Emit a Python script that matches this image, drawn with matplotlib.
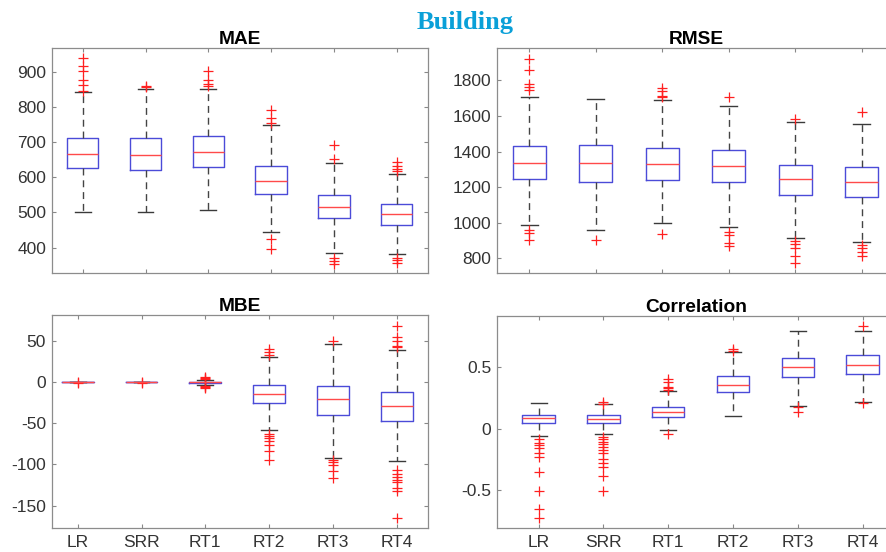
import matplotlib
matplotlib.use('Agg')
import matplotlib.pyplot as plt

plt.rcParams['font.family'] = ['Liberation Sans', 'DejaVu Sans']
plt.rcParams['axes.unicode_minus'] = False

models = ['LR', 'SRR', 'RT1', 'RT2', 'RT3', 'RT4']

# MAE
mae_q1 = [625, 619, 628, 553, 483, 463]
mae_med = [665, 663, 671, 589, 516, 496]
mae_q3 = [711, 711, 717, 631, 548, 524]
mae_lo = [500, 500, 507, 444, 386, 381]
mae_hi = [841, 850, 850, 748, 641, 609]
mae_fliers = [[938, 916, 902, 876, 862, 845],
              [859, 855],
              [902, 876, 865, 858],
              [790, 767, 753, 425, 396],
              [690, 651, 370, 362, 352],
              [642, 633, 623, 618, 370, 365, 355]]

# RMSE
rmse_q1 = [1244, 1231, 1240, 1227, 1156, 1143]
rmse_med = [1334, 1334, 1330, 1321, 1244, 1231]
rmse_q3 = [1433, 1435, 1422, 1409, 1326, 1315]
rmse_lo = [985, 957, 997, 974, 912, 892]
rmse_hi = [1704, 1693, 1690, 1656, 1564, 1555]
rmse_fliers = [[1922, 1860, 1778, 1761, 1746, 959, 940, 903],
               [905],
               [1755, 1742, 1714, 1706, 937],
               [1708, 950, 931, 885, 869],
               [1583, 897, 883, 856, 815, 772],
               [1624, 875, 856, 837, 815]]

# MBE
mbe_q1 = [-0.2, -0.2, -1.5, -25.7, -39.5, -47.2]
mbe_med = [0, 0, -0.3, -14, -20.4, -28.5]
mbe_q3 = [0.2, 0.2, 0.8, -3.4, -4.3, -11.5]
mbe_lo = [-0.2, -0.2, -3.5, -58.5, -91.7, -96]
mbe_hi = [0.2, 0.2, 2.5, 30.6, 46.8, 38.7]
mbe_fliers = [[0.6, -0.6],
              [0.5, -0.5],
              [4, 5.5, 6.5, -4.5, -5.5, -6.5],
              [40, 37, 33, -63, -65, -68, -72, -76, -84, -94.5],
              [50.4, -94.5, -96.5, -101, -108, -117],
              [68.6, 54.5, 50, 44.3, 42.3, -106.7, -111.5, -115, -119, -121.7, -129, -131.8, -165.4]]

# Correlation
corr_q1 = [0.042, 0.045, 0.09, 0.292, 0.417, 0.441]
corr_med = [0.082, 0.077, 0.131, 0.354, 0.5, 0.516]
corr_q3 = [0.112, 0.107, 0.177, 0.422, 0.568, 0.595]
corr_lo = [-0.058, -0.047, -0.011, 0.101, 0.182, 0.217]
corr_hi = [0.204, 0.195, 0.30, 0.621, 0.791, 0.791]
corr_fliers = [[-0.088, -0.12, -0.133, -0.16, -0.195, -0.228, -0.354, -0.503, -0.654, -0.726],
               [0.217, 0.20, -0.066, -0.088, -0.106, -0.125, -0.147, -0.174, -0.2, -0.244,
                -0.276, -0.309, -0.384, -0.503],
               [0.40, 0.379, 0.338, 0.325, 0.31, -0.044],
               [0.64, 0.63],
               [0.176, 0.133],
               [0.832, 0.209]]


def make_stats(q1, med, q3, lo, hi, fliers):
    return [dict(q1=a, med=m, q3=b, whislo=l, whishi=h, fliers=f)
            for a, m, b, l, h, f in zip(q1, med, q3, lo, hi, fliers)]


W, H = 886, 552
fig = plt.figure(figsize=(W / 100, H / 100), dpi=100)


def px_axes(l, t, r, b):
    return fig.add_axes([l / W, 1 - b / H, (r - l) / W, (b - t) / H])


panels = [
    ('MAE', make_stats(mae_q1, mae_med, mae_q3, mae_lo, mae_hi, mae_fliers),
     (51.7, 48.3, 428.3, 273.3), (0.506, 6.504), (327, 966), [400, 500, 600, 700, 800, 900], False),
    ('RMSE', make_stats(rmse_q1, rmse_med, rmse_q3, rmse_lo, rmse_hi, rmse_fliers),
     (496.7, 48.3, 895, 273.3), (0.51, 6.5), (716, 1980), [800, 1000, 1200, 1400, 1600, 1800], False),
    ('MBE', make_stats(mbe_q1, mbe_med, mbe_q3, mbe_lo, mbe_hi, mbe_fliers),
     (51.7, 315, 427.7, 528.3), (0.592, 6.486), (-177.5, 81.6), [-150, -100, -50, 0, 50], True),
    ('Correlation', make_stats(corr_q1, corr_med, corr_q3, corr_lo, corr_hi, corr_fliers),
     (496.7, 315.7, 895, 528.3), (0.352, 6.5), (-0.807, 0.913), [-0.5, 0, 0.5], True),
]

for title, stats, rect, xlim, ylim, yticks, show_x in panels:
    ax = px_axes(*rect)
    ax.bxp(stats, positions=range(1, 7), widths=0.5, showfliers=True,
           boxprops=dict(color='#4b4bd8', linewidth=1.0),
           medianprops=dict(color='#ff4a4a', linewidth=1.0),
           whiskerprops=dict(color='#444444', linewidth=1.0, linestyle=(0, (5, 3.5))),
           capprops=dict(color='#3a3a3a', linewidth=1.0),
           flierprops=dict(marker='+', markeredgecolor='#ff2020', markersize=7,
                           markeredgewidth=0.9, linestyle='none'))
    ax.set_xlim(*xlim)
    ax.set_ylim(*ylim)
    ax.set_yticks(yticks)
    ax.set_yticklabels([f'{v:g}' for v in yticks])
    ax.set_xticks(range(1, 7))
    if show_x:
        ax.set_xticklabels(models)
    else:
        ax.set_xticklabels([])
    ax.tick_params(direction='in', top=True, right=True, length=3, width=0.8,
                   color='#888888', labelcolor='#333333', labelsize=12.5, pad=4)
    ax.tick_params(axis='x', labelsize=12.5, pad=5)
    for s in ax.spines.values():
        s.set_color('#8c8c8c')
        s.set_linewidth(0.9)
    ax.set_title(title, fontsize=13.8, fontweight='bold', pad=3)

fig.text(465 / W, 1 - 29 / H, 'Building', ha='center', va='baseline',
         fontfamily='Liberation Serif', fontweight='bold', fontsize=19, color='#0aa0d8')

fig.savefig('out.png', dpi=100)
